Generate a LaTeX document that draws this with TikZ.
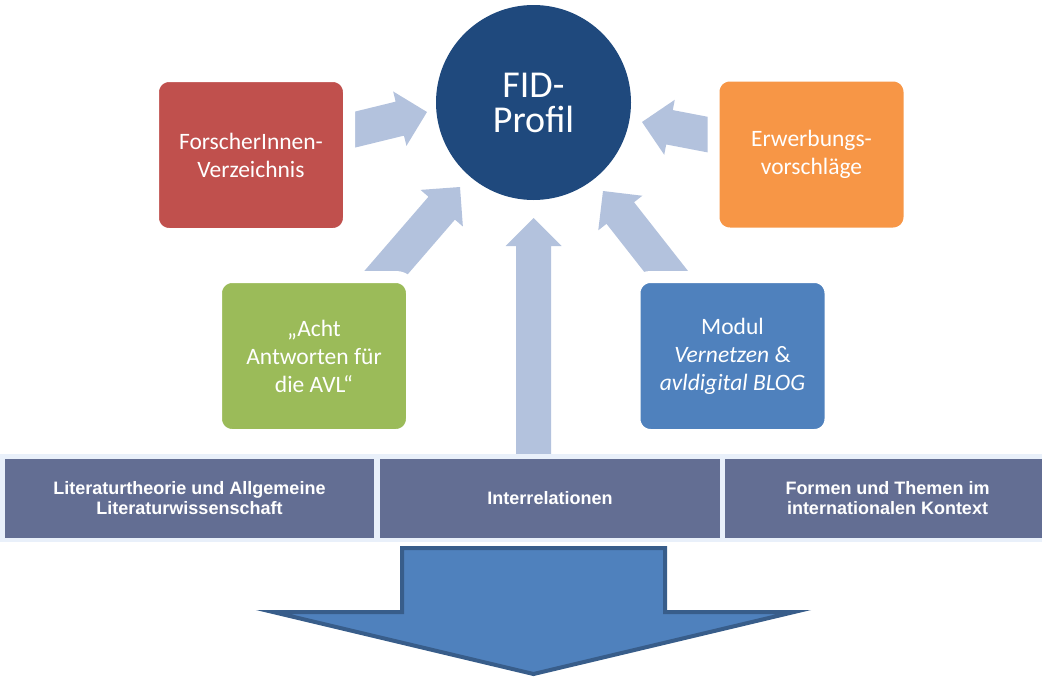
\documentclass[tikz,border=0pt]{standalone}
\usepackage{fontspec}
\setmainfont{Carlito}
\newfontfamily\bandfont{Liberation Sans}
\usetikzlibrary{calc,backgrounds}

\definecolor{fidblue}{RGB}{31,73,125}
\definecolor{boxred}{RGB}{192,80,77}
\definecolor{boxorange}{RGB}{247,150,70}
\definecolor{boxgreen}{RGB}{155,187,89}
\definecolor{boxblue}{RGB}{79,129,189}
\definecolor{arrowblue}{RGB}{179,194,221}
\definecolor{bandbg}{RGB}{233,240,250}
\definecolor{bandcell}{RGB}{99,110,147}
\definecolor{bigarrowline}{RGB}{56,93,138}

% block arrow from #1 to the tip #2
\newcommand\fatarrow[2]{%
    \coordinate (fahead) at ($(#2)!28pt!(#1)$);
    \fill[fatarrow] ($(#1)!17.5pt!90:(#2)$) -- ($(fahead)!17.5pt!90:(#2)$)
        -- ($(fahead)!28pt!90:(#2)$) -- (#2) -- ($(fahead)!28pt!-90:(#2)$)
        -- ($(fahead)!17.5pt!-90:(#2)$) -- ($(#1)!17.5pt!-90:(#2)$) -- cycle;}

\begin{document}
\begin{tikzpicture}[
            x=1pt, y=-1pt,
            every node/.style={text=white, align=center, inner sep=0pt},
            box/.style={rectangle, rounded corners=16pt, draw=white, line width=12pt,
                minimum width=196pt, minimum height=158pt,
                font=\fontsize{23.5}{28}\selectfont},
            cell/.style={rectangle, fill=bandcell, minimum height=79pt,
                font=\bandfont\bfseries\fontsize{18}{20}\selectfont},
            fatarrow/.style={fill=arrowblue}
        ]
        \useasboundingbox (0,0) rectangle (1042,678);

        % Profil in the middle
        \node[circle, fill=fidblue, minimum size=195pt,
            font=\fontsize{38}{35}\selectfont] (fid) at (533.5,102.5) {FID-\\Profil};

        % Boxes round it
        \node[box, fill=boxred] (forscher) at (251,155) {ForscherInnen-\\Verzeichnis};
        \node[box, fill=boxorange] (erwerb) at (811.5,154.5) {Erwerbungs-\\vorschläge};
        \node[box, fill=boxgreen] (acht) at (314,356) {„Acht\\Antworten für\\die AVL“};
        \node[box, fill=boxblue] (modul) at (732.5,356) {Modul\\\textit{Vernetzen} \&\\\textit{avldigital BLOG}};

        % Band with the three areas
        \node[fill=bandbg, minimum width=1042pt, minimum height=88pt] (band) at (521,498) {};
        \node[cell, minimum width=369pt] (lit) at (189.5,498.5) {Literaturtheorie und Allgemeine\\Literaturwissenschaft};
        \node[cell, minimum width=340pt] (inter) at (550,498.5) {Interrelationen};
        \node[cell, minimum width=325pt] (formen) at (887.5,498.5) {Formen und Themen im\\internationalen Kontext};

        % Arrow tips next to the circle
        \coordinate (tipforscher) at (427,112);
        \coordinate (tiperwerb) at (642,122);
        \coordinate (tipacht) at (460,187);
        \coordinate (tipmodul) at (603,191);
        \coordinate (tipinter) at (533.5,218);

        \begin{scope}[on background layer]
            \fatarrow{forscher.center}{tipforscher}
            \fatarrow{erwerb.center}{tiperwerb}
            \fatarrow{acht.center}{tipacht}
            \fatarrow{modul.center}{tipmodul}
            \fatarrow{fid |- inter.center}{tipinter}
        \end{scope}

        % Big arrow below
        \draw[draw=bigarrowline, fill=boxblue, line width=4pt]
            (402,548) -- (665,548) -- (665,612) -- (794,612) -- (533.5,674)
            -- (273,612) -- (402,612) -- cycle;
\end{tikzpicture}
\end{document}
